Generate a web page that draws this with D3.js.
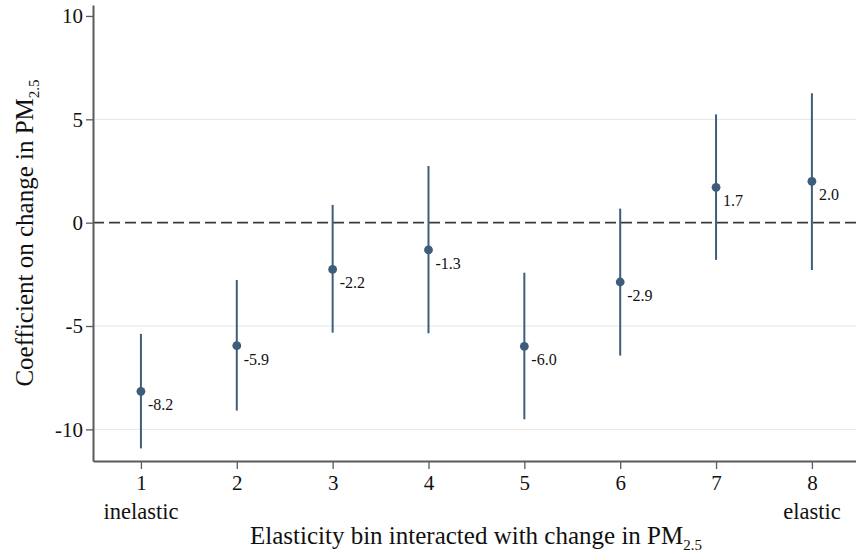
<!DOCTYPE html>
<html>
<head>
    <meta charset="utf-8">
    <script src="https://d3js.org/d3.v7.min.js"></script>
    <style>
        body { margin: 0; background: #ffffff; }
        text { font-family: 'Liberation Serif', 'DejaVu Serif', serif; }
    </style>
</head>
<body>
    <svg id="chart" width="856" height="556"></svg>
    <script>
        // elasticity bins and their estimates
        var bins = [1, 2, 3, 4, 5, 6, 7, 8];
        var coef = [-8.16, -5.95, -2.26, -1.32, -5.98, -2.87, 1.71, 2.0];
        var ciLow = [-10.92, -9.09, -5.32, -5.35, -9.51, -6.43, -1.80, -2.29];
        var ciHigh = [-5.38, -2.77, 0.86, 2.74, -2.42, 0.68, 5.24, 6.26];
        var coefLabels = ["-8.2", "-5.9", "-2.2", "-1.3", "-6.0", "-2.9", "1.7", "2.0"];
        var yTicks = [-10, -5, 0, 5, 10];
        var gridTicks = [-10, -5, 5];
        var binNotes = [{ bin: 1, text: "inelastic" }, { bin: 8, text: "elastic" }];

        var svg = d3.select("#chart");
        var markColor = "#3d5e7b";
        var axisColor = "#5a5a5a";

        var x = d3.scaleLinear().domain([0.5, 8.46]).range([93, 856]);
        var y = d3.scaleLinear().domain([-11.53, 10.53]).range([461, 5]);

        // grid lines
        svg.append("g").selectAll("line")
            .data(gridTicks)
            .enter().append("line")
            .attr("x1", x(0.5)).attr("x2", x(8.46))
            .attr("y1", function (d) { return y(d); })
            .attr("y2", function (d) { return y(d); })
            .style("stroke", "#e6e6e6")
            .style("stroke-width", 1);

        // zero reference
        svg.append("line")
            .attr("x1", x(0.5)).attr("x2", x(8.46))
            .attr("y1", y(0)).attr("y2", y(0))
            .style("stroke", "#3a3a3a")
            .style("stroke-width", 1.6)
            .style("stroke-dasharray", "11,5");

        // axes
        var yAxis = d3.axisLeft(y).tickValues(yTicks).tickSizeInner(7).tickSizeOuter(0).tickPadding(3)
            .tickFormat(function (d) { return d; });
        var xAxis = d3.axisBottom(x).tickValues(bins).tickSizeInner(8).tickSizeOuter(0).tickPadding(6)
            .tickFormat(function (d) { return d; });

        var gy = svg.append("g").attr("transform", "translate(" + x(0.5) + ",0)").call(yAxis);
        var gx = svg.append("g").attr("transform", "translate(0," + y(-11.53) + ")").call(xAxis);

        [gx, gy].forEach(function (g) {
            g.select(".domain").style("stroke", axisColor).style("stroke-width", 2);
            g.selectAll(".tick line").style("stroke", axisColor).style("stroke-width", 1.3);
            g.selectAll(".tick text")
                .style("font-family", "'Liberation Serif', serif")
                .style("font-size", "21px")
                .style("fill", "#111");
        });

        // bin notes under the ticks
        svg.append("g").selectAll("text")
            .data(binNotes)
            .enter().append("text")
            .attr("x", function (d) { return x(d.bin); })
            .attr("y", 519)
            .attr("text-anchor", "middle")
            .style("font-size", "22.5px")
            .style("fill", "#111")
            .text(function (d) { return d.text; });

        // confidence intervals
        svg.append("g").selectAll("line")
            .data(bins)
            .enter().append("line")
            .attr("x1", function (d) { return x(d); })
            .attr("x2", function (d) { return x(d); })
            .attr("y1", function (d, i) { return y(ciHigh[i]); })
            .attr("y2", function (d, i) { return y(ciLow[i]); })
            .style("stroke", markColor)
            .style("stroke-width", 2);

        // point estimates
        svg.append("g").selectAll("circle")
            .data(bins)
            .enter().append("circle")
            .attr("cx", function (d) { return x(d); })
            .attr("cy", function (d, i) { return y(coef[i]); })
            .attr("r", 4.4)
            .style("fill", markColor);

        svg.append("g").selectAll("text")
            .data(bins)
            .enter().append("text")
            .attr("x", function (d) { return x(d) + 7; })
            .attr("y", function (d, i) { return y(coef[i]) + 19; })
            .style("font-size", "16px")
            .style("fill", "#111")
            .text(function (d, i) { return coefLabels[i]; });

        // axis titles
        var xTitle = svg.append("text")
            .attr("x", 476)
            .attr("y", 544)
            .attr("text-anchor", "middle")
            .style("font-size", "25px")
            .style("fill", "#111");
        xTitle.append("tspan").text("Elasticity bin interacted with change in PM");
        xTitle.append("tspan").attr("dy", 6).style("font-size", "15px").text("2.5");

        var yTitle = svg.append("text")
            .attr("transform", "translate(33,233) rotate(-90)")
            .attr("text-anchor", "middle")
            .style("font-size", "25px")
            .style("fill", "#111");
        yTitle.append("tspan").text("Coefficient on change in PM");
        yTitle.append("tspan").attr("dy", 6).style("font-size", "15px").text("2.5");
    </script>
</body>
</html>
